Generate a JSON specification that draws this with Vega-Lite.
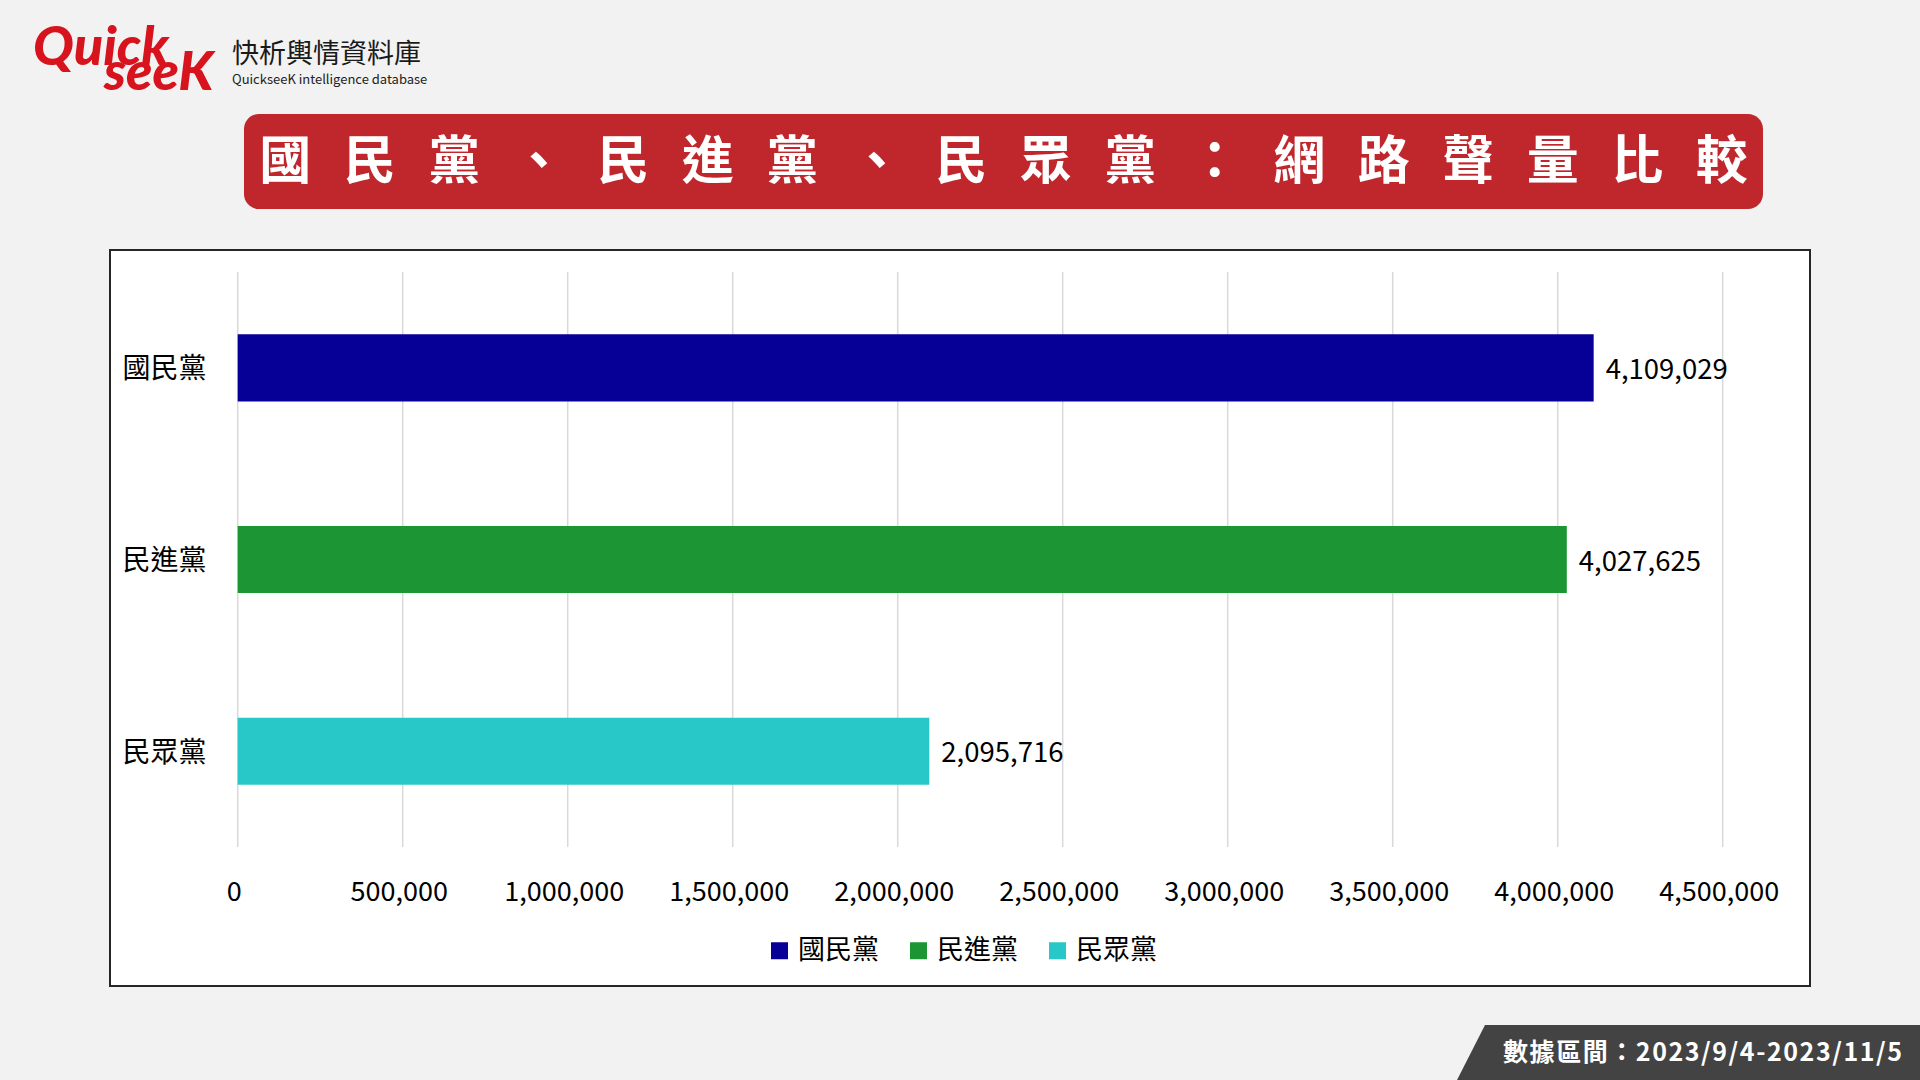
{
  "$schema": "https://vega.github.io/schema/vega-lite/v6.json",
  "width": 1700,
  "height": 736,
  "autosize": {"type": "none"},
  "padding": {"left": 110, "top": 250, "right": 110, "bottom": 94},
  "background": "#F2F2F2",
  "view": {"fill": "white", "stroke": "#262626", "strokeWidth": 2},
  "config": {"font": "Noto Sans CJK TC"},
  "datasets": {
    "ticks": [
      {"tick": 0}, {"tick": 500000}, {"tick": 1000000}, {"tick": 1500000}, {"tick": 2000000},
      {"tick": 2500000}, {"tick": 3000000}, {"tick": 3500000}, {"tick": 4000000}, {"tick": 4500000}
    ]
  },
  "data": {"values": [
    {"party": "國民黨", "value": 4109029},
    {"party": "民進黨", "value": 4027625},
    {"party": "民眾黨", "value": 2095716}
  ]},
  "layer": [
    {
      "data": {"name": "ticks"},
      "mark": {"type": "rule", "color": "#D9D9D9", "strokeWidth": 1.5, "y": 22, "y2": 597},
      "encoding": {
        "x": {"field": "tick", "type": "quantitative"}
      }
    },
    {
      "mark": {"type": "bar"},
      "encoding": {
        "y": {"field": "party", "type": "nominal", "sort": ["國民黨", "民進黨", "民眾黨"],
          "scale": {"range": [22, 597], "paddingInner": 0.65, "paddingOuter": 0.325},
          "axis": {"title": null, "orient": "left", "offset": -96, "labelPadding": 0, "labelOffset": 2.5, "ticks": false, "tickSize": 0, "domain": false, "grid": false, "labelFontSize": 28, "labelColor": "#000000", "labelFont": "Noto Sans CJK TC"}},
        "x": {"field": "value", "type": "quantitative",
          "scale": {"domain": [0, 4500000], "range": [127.7, 1612.7], "nice": false},
          "axis": {"title": null, "orient": "bottom", "offset": -94, "values": [0, 500000, 1000000, 1500000, 2000000, 2500000, 3000000, 3500000, 4000000, 4500000], "format": ",d", "labelFlush": false, "labelOverlap": false, "labelPadding": 0, "labelOffset": -4, "labelBaseline": "middle", "ticks": false, "tickSize": 0, "domain": false, "grid": false, "labelFontSize": 27, "labelColor": "#000000", "labelFont": "Noto Sans CJK TC"}},
        "color": {"field": "party", "type": "nominal",
          "scale": {"domain": ["國民黨", "民進黨", "民眾黨"], "range": ["#070096", "#1C9634", "#28C8C8"]},
          "legend": {"title": null, "orient": "none", "legendX": 656, "legendY": 687, "direction": "horizontal", "symbolType": "square", "symbolSize": 289, "symbolStrokeWidth": 0, "labelFontSize": 27, "labelColor": "#000000", "labelOffset": 5, "columnPadding": 26, "padding": 0, "labelFont": "Noto Sans CJK TC"}}
      }
    },
    {
      "mark": {"type": "text", "align": "left", "baseline": "middle", "dx": 12, "dy": 3, "fontSize": 27.5, "color": "#000000"},
      "encoding": {
        "y": {"field": "party", "type": "nominal", "sort": ["國民黨", "民進黨", "民眾黨"]},
        "x": {"field": "value", "type": "quantitative"},
        "text": {"field": "value", "type": "quantitative", "format": ","}
      }
    },
    {
      "data": {"values": [{}]},
      "mark": {"type": "rect", "fill": "#C0272D", "cornerRadius": 15, "x": 134, "x2": 1653, "y": -136, "y2": -41},
      "encoding": {}
    },
    {
      "data": {"values": [{}]},
      "mark": {"type": "text", "x": 893.5, "y": -87.5, "align": "center", "baseline": "middle", "fontSize": 52, "fontWeight": "bold", "color": "#FFFFFF",
        "text": "國\u2002\u200A\u200A民\u2002\u200A\u200A黨\u2002\u200A\u200A、\u2002\u200A\u200A民\u2002\u200A\u200A進\u2002\u200A\u200A黨\u2002\u200A\u200A、\u2002\u200A\u200A民\u2002\u200A\u200A眾\u2002\u200A\u200A黨\u2002\u200A\u200A：\u2002\u200A\u200A網\u2002\u200A\u200A路\u2002\u200A\u200A聲\u2002\u200A\u200A量\u2002\u200A\u200A比\u2002\u200A\u200A較"},
      "encoding": {}
    },
    {
      "data": {"values": [{}]},
      "mark": {"type": "text", "x": -77, "y": -185, "align": "left", "baseline": "alphabetic", "font": "Lato", "fontSize": 54, "fontWeight": 900, "fontStyle": "italic", "color": "#D7141D", "text": "Quick"},
      "encoding": {}
    },
    {
      "data": {"values": [{}]},
      "mark": {"type": "text", "x": -6, "y": -160, "align": "left", "baseline": "alphabetic", "font": "Lato", "fontSize": 54, "fontWeight": 900, "fontStyle": "italic", "color": "#D7141D", "text": "seeK"},
      "encoding": {}
    },
    {
      "data": {"values": [{}]},
      "mark": {"type": "text", "x": 122, "y": -195, "align": "left", "baseline": "middle", "fontSize": 27, "color": "#1A1A1A", "text": "快析輿情資料庫"},
      "encoding": {}
    },
    {
      "data": {"values": [{}]},
      "mark": {"type": "text", "x": 122, "y": -170, "align": "left", "baseline": "middle", "fontSize": 13, "color": "#222222", "text": "QuickseeK intelligence database"},
      "encoding": {}
    },
    {
      "data": {"values": [{}]},
      "mark": {"type": "point", "x": 1578.5, "y": 802.5, "filled": true, "opacity": 1, "fill": "#434343", "strokeWidth": 0, "size": 214369, "shape": "M -0.879 -0.119 L 1 -0.119 L 1 0.119 L -1 0.119 Z"},
      "encoding": {}
    },
    {
      "data": {"values": [{}]},
      "mark": {"type": "text", "x": 1393, "y": 803, "align": "left", "baseline": "middle", "fontSize": 25, "fontWeight": "bold", "color": "#FFFFFF", "text": "數\u200A據\u200A區\u200A間\u200A：\u200A2\u200A0\u200A2\u200A3\u200A/\u200A9\u200A/\u200A4\u200A-\u200A2\u200A0\u200A2\u200A3\u200A/\u200A1\u200A1\u200A/\u200A5"},
      "encoding": {}
    }
  ]
}
